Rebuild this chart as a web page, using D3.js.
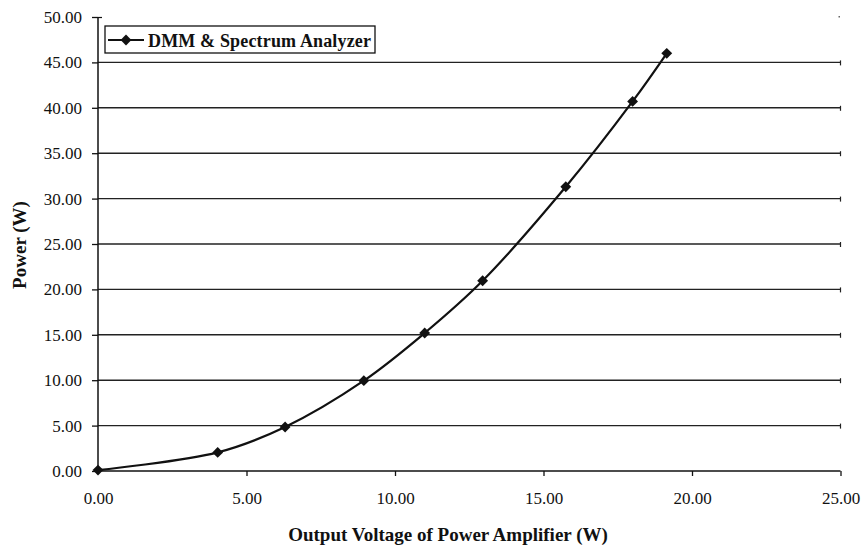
<!DOCTYPE html>
<html><head><meta charset="utf-8">
<script src="https://cdn.jsdelivr.net/npm/d3@7"></script>
<style>body{margin:0;background:#fff}svg{display:block}</style>
</head><body>
<svg id="c" width="863" height="548"></svg>
<script>
const voltage = [0.0, 4.03, 6.3, 8.95, 11.0, 12.95, 15.75, 18.0, 19.15];
const power = [0.1, 2.05, 4.85, 9.95, 15.2, 20.95, 31.3, 40.7, 46.0];
const xTicks = [0, 5, 10, 15, 20, 25];
const yTicks = [0, 5, 10, 15, 20, 25, 30, 35, 40, 45, 50];
const seriesName = "DMM & Spectrum Analyzer";
const xTitle = "Output Voltage of Power Amplifier (W)";
const yTitle = "Power (W)";

const svg = d3.select("#c");
const L = 98, R = 840.5, T = 17, B = 471;
const x = d3.scaleLinear().domain([0, 25]).range([L, R]);
const y = d3.scaleLinear().domain([0, 50]).range([B, T]);
const ink = "#111";
const font = "'Liberation Serif','Times New Roman',serif";

// gridlines
svg.append("g").selectAll("line").data(yTicks.filter(d => d > 0 && d < 50)).join("line")
  .attr("x1", L).attr("x2", R).attr("y1", d => y(d)).attr("y2", d => y(d))
  .attr("stroke", "#222").attr("stroke-width", 1.4);
// small end marks at right
svg.append("g").selectAll("line").data(yTicks.filter(d => d > 0 && d < 50)).join("line")
  .attr("x1", R).attr("x2", R).attr("y1", d => y(d) - 2).attr("y2", d => y(d) + 3)
  .attr("stroke", "#222").attr("stroke-width", 1.2);
svg.append("rect").attr("x", x(25) - 2).attr("y", y(50) - 1).attr("width", 1.5).attr("height", 1.5).attr("fill", "#666");

// axes
const yAxis = d3.axisLeft(y).tickValues(yTicks).tickSize(6).tickPadding(10).tickFormat(d3.format(".2f"));
const gy = svg.append("g").attr("transform", `translate(${L},0)`).call(yAxis);
const xAxis = d3.axisBottom(x).tickValues(xTicks).tickSize(5).tickPadding(16).tickFormat(d3.format(".2f"));
const gx = svg.append("g").attr("transform", `translate(0,${B})`).call(xAxis);
[gx, gy].forEach(g => {
  g.select(".domain").attr("stroke", ink).attr("stroke-width", 1.5);
  g.selectAll(".tick line").attr("stroke", ink).attr("stroke-width", 1.3);
  g.selectAll("text").attr("fill", ink).style("font-family", font).style("font-size", "17px");
});
gx.select(".domain").attr("d", `M${L},0H${R}`);
gy.select(".domain").attr("d", `M0,${B}V${T}`);
gx.selectAll(".tick").filter(d => d === 0).select("line").remove();
gy.selectAll(".tick").filter(d => d === 50).append("line").attr("x1", 0).attr("x2", 4)
  .attr("stroke", ink).attr("stroke-width", 1.2);

// titles
svg.append("text").attr("x", 448).attr("y", 541).attr("text-anchor", "middle")
  .style("font-family", font).style("font-weight", "bold").style("font-size", "19px").attr("fill", ink).text(xTitle);
svg.append("text").attr("transform", "translate(26,245) rotate(-90)").attr("text-anchor", "middle")
  .style("font-family", font).style("font-weight", "bold").style("font-size", "19px").attr("fill", ink).text(yTitle);

// series
const pts = voltage.map((v, i) => [v, power[i]]);
const line = d3.line().x(d => x(d[0])).y(d => y(d[1])).curve(d3.curveCatmullRom.alpha(0.5));
svg.append("path").datum(pts).attr("d", line).attr("fill", "none").attr("stroke", ink).attr("stroke-width", 2.2);
const diamond = d3.symbol().type(d3.symbolDiamond2).size(75);
svg.append("g").selectAll("path").data(pts).join("path")
  .attr("transform", d => `translate(${x(d[0])},${y(d[1])})`).attr("d", diamond).attr("fill", ink);

// legend
const lg = svg.append("g");
lg.append("rect").attr("x", 105).attr("y", 26).attr("width", 270).attr("height", 27)
  .attr("fill", "#fff").attr("stroke", ink).attr("stroke-width", 1.3);
lg.append("line").attr("x1", 108).attr("x2", 144).attr("y1", 40).attr("y2", 40).attr("stroke", ink).attr("stroke-width", 2.2);
lg.append("path").attr("transform", "translate(126,40)").attr("d", diamond).attr("fill", ink);
lg.append("text").attr("x", 148).attr("y", 46.5).attr("textLength", 223).style("font-family", font).style("font-weight", "bold")
  .style("font-size", "18px").attr("fill", ink).text(seriesName);
</script>
</body></html>
